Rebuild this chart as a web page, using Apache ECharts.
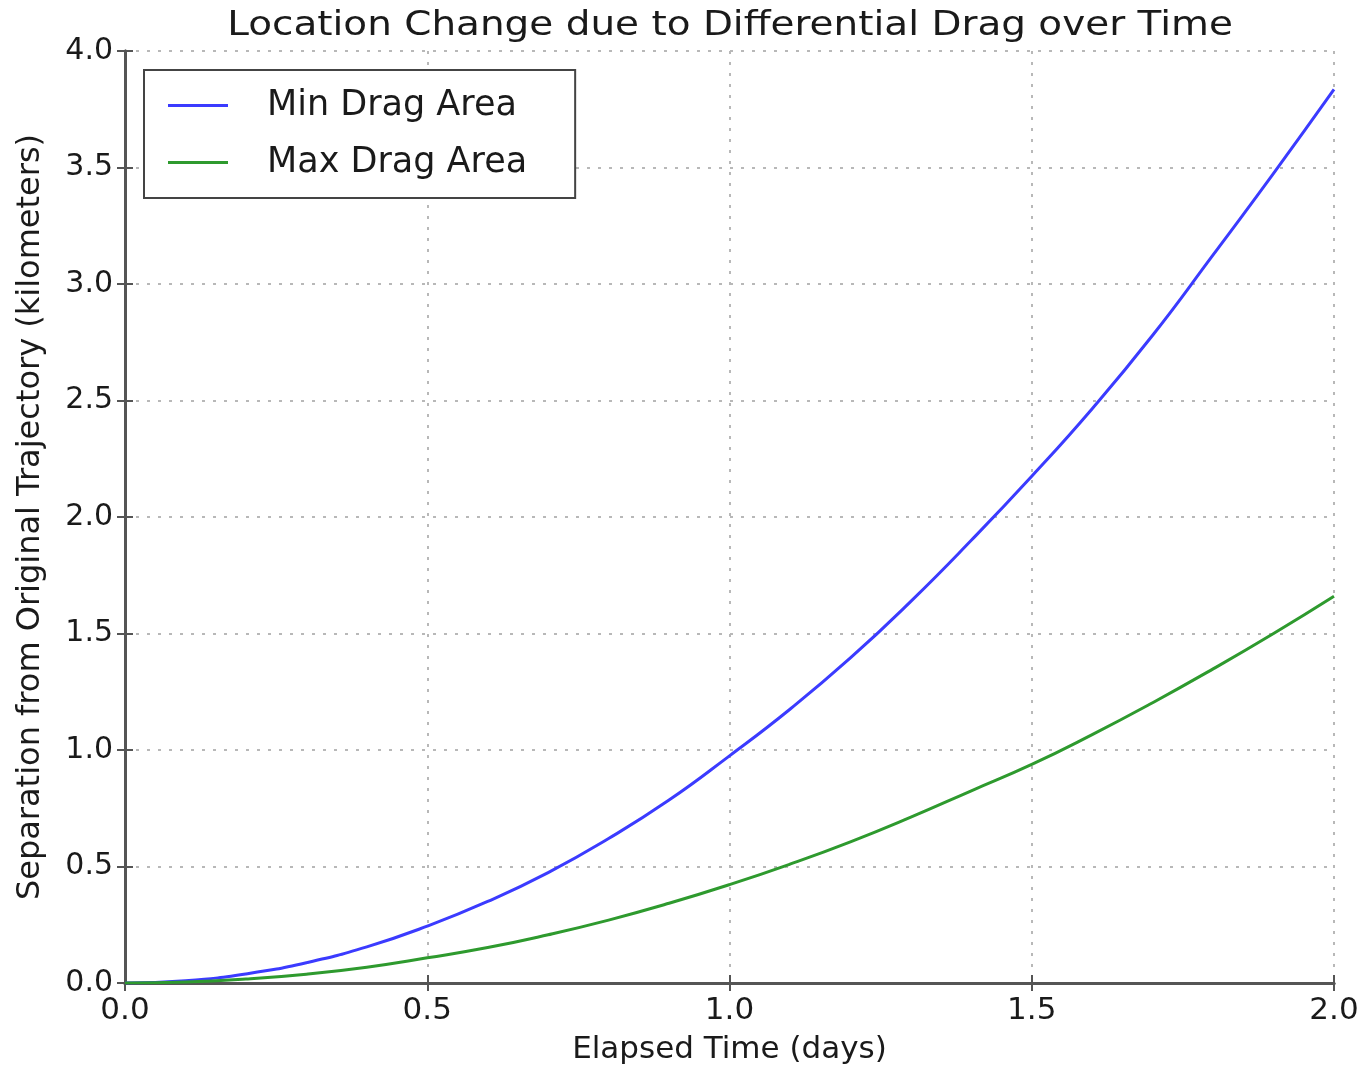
<!DOCTYPE html>
<html>
<head>
<meta charset="utf-8">
<script src="https://cdn.jsdelivr.net/npm/echarts@6/dist/echarts.min.js"></script>
<style>html,body{margin:0;padding:0;background:#fff;}#c{width:1364px;height:1077px;}</style>
</head>
<body>
<div id="c"></div>
<script>
const timeDays = [0.0,0.1,0.2,0.3,0.4,0.5,0.6,0.7,0.8,0.9,1.0,1.1,1.2,1.3,1.4,1.5,1.6,1.7,1.8,1.9,2.0];
const minDragArea = [0.000,0.010,0.039,0.087,0.155,0.244,0.350,0.474,0.620,0.785,0.975,1.175,1.395,1.638,1.900,2.175,2.465,2.780,3.125,3.475,3.835];
const maxDragArea = [0.000,0.004,0.017,0.038,0.068,0.108,0.152,0.207,0.270,0.342,0.422,0.510,0.606,0.712,0.825,0.938,1.066,1.203,1.348,1.500,1.660];
const xTicks = ['0.0','0.5','1.0','1.5','2.0'];
const yTicks = ['0.0','0.5','1.0','1.5','2.0','2.5','3.0','3.5','4.0'];
const titleText = 'Location Change due to Differential Drag over Time';

const chart = echarts.init(document.getElementById('c'));
const font = 'DejaVu Sans';
const frame = {show:true, lineStyle:{color:'#555', width:3}};
const inTick = {show:true, inside:true, length:8, lineStyle:{color:'#555', width:2}};
const grid = {show:true, lineStyle:{color:'#b8b8b8', width:2, type:[3,8]}};
chart.setOption({
  animation:false,
  backgroundColor:'#fff',
  graphic:[{
    type:'text', x:730, y:10, scaleX:1.18,
    style:{text:titleText, fontFamily:font, fontSize:33, fill:'#1a1a1a', textAlign:'center', textVerticalAlign:'top'}
  }],
  grid:{left:125, right:30, top:51, bottom:94, containLabel:false},
  legend:{
    orient:'vertical', left:144, top:70,
    padding:[18,48,18,24],
    borderColor:'#444', borderWidth:2,
    backgroundColor:'#fff',
    icon:'rect', itemWidth:60, itemHeight:3, itemGap:22,
    textStyle:{fontFamily:font, fontSize:35, color:'#1a1a1a', padding:[0,0,0,34]},
    data:['Min Drag Area','Max Drag Area']
  },
  xAxis:[{
    type:'value', min:0, max:2, interval:0.5,
    name:'Elapsed Time (days)', nameLocation:'middle', nameGap:51,
    nameTextStyle:{fontFamily:font, fontSize:31, color:'#1a1a1a'},
    axisLine:frame, axisTick:inTick,
    axisLabel:{fontFamily:font, fontSize:31, color:'#1a1a1a', margin:12,
      formatter:function(v){return xTicks[Math.round(v/0.5)];}},
    splitLine:grid
  },{
    type:'value', min:0, max:2, interval:0.5, position:'top',
    axisLine:frame, axisTick:inTick, axisLabel:{show:false}, splitLine:{show:false}
  }],
  yAxis:[{
    type:'value', min:0, max:4, interval:0.5,
    name:'Separation from Original Trajectory (kilometers)', nameLocation:'middle', nameGap:78,
    nameTextStyle:{fontFamily:font, fontSize:32, color:'#1a1a1a'},
    axisLine:frame, axisTick:inTick,
    axisLabel:{fontFamily:font, fontSize:30, color:'#1a1a1a', margin:12,
      formatter:function(v){return yTicks[Math.round(v/0.5)];}},
    splitLine:grid
  },{
    type:'value', min:0, max:4, interval:0.5, position:'right',
    axisLine:frame, axisTick:inTick, axisLabel:{show:false}, splitLine:{show:false}
  }],
  series:[{
    name:'Min Drag Area', type:'line', showSymbol:false, smooth:true,
    data:timeDays.map((t,i)=>[t,minDragArea[i]]),
    lineStyle:{color:'#3b3bff', width:3}, itemStyle:{color:'#3b3bff'}
  },{
    name:'Max Drag Area', type:'line', showSymbol:false, smooth:true,
    data:timeDays.map((t,i)=>[t,maxDragArea[i]]),
    lineStyle:{color:'#2e9a2e', width:3}, itemStyle:{color:'#2e9a2e'}
  }]
});
</script>
</body>
</html>
